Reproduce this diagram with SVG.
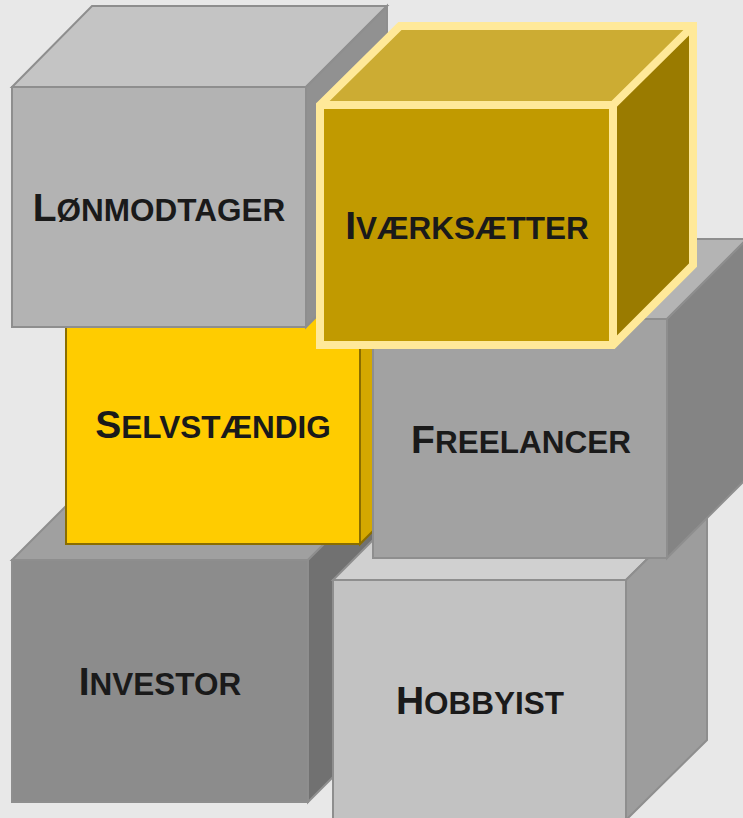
<svg xmlns="http://www.w3.org/2000/svg" width="743" height="818" viewBox="0 0 743 818">
<style>
.g{stroke:#8e8e8e;stroke-width:2;stroke-linejoin:miter}
.lbl{font-family:"Liberation Sans",Arial,sans-serif;font-weight:bold;fill:#1a1a1a;text-anchor:middle}
.big{font-size:39px}
.sm{font-size:31.5px}
</style>
<rect width="743" height="818" fill="#e8e8e8"/>
<g id="connectors"/>
<g id="investor">
<polygon class="g" points="12,560 92,480 388,480 308,560" fill="#a0a0a0" stroke="#989898"/>
<polygon class="g" points="308,560 388,480 388,722 308,802" fill="#717171" stroke="#989898"/>
<rect class="g" x="12" y="560" width="296" height="242" fill="#8c8c8c" stroke="#989898"/>
<text class="lbl" x="160" y="695"><tspan class="big">I</tspan><tspan class="sm">NVESTOR</tspan></text>
</g>
<g id="hobbyist">
<polygon class="g" points="333,580 413,500 707,500 626,580" fill="#d0d0d0"/>
<polygon class="g" points="626,580 707,500 707,740 626,820" fill="#9d9d9d"/>
<rect class="g" x="333" y="580" width="293" height="240" fill="#c2c2c2"/>
<text class="lbl" x="480" y="714"><tspan class="big">H</tspan><tspan class="sm">OBBYIST</tspan></text>
</g>
<g id="selvstaendig">
<polygon points="66,304 146,224 440,224 360,304" fill="#ffd633" stroke="#8a6d00" stroke-width="2"/>
<polygon points="360,304 440,224 440,464 360,544" fill="#d4a800" stroke="#8a6d00" stroke-width="2"/>
<rect x="66" y="304" width="294" height="240" fill="#ffcc00" stroke="#8a6d00" stroke-width="2"/>
<text class="lbl" x="213" y="438"><tspan class="big">S</tspan><tspan class="sm">ELVSTÆNDIG</tspan></text>
</g>
<g id="freelancer">
<polygon class="g" points="373,319 453,239 747,239 667,319" fill="#b4b4b4"/>
<polygon class="g" points="667,319 747,239 747,478 667,558" fill="#848484"/>
<rect class="g" x="373" y="319" width="294" height="239" fill="#a2a2a2"/>
<text class="lbl" x="521" y="453"><tspan class="big">F</tspan><tspan class="sm">REELANCER</tspan></text>
</g>
<g id="lonmodtager">
<polygon class="g" points="12,87 92,6 387,6 306,87" fill="#c4c4c4"/>
<polygon class="g" points="306,87 387,6 387,246 306,327" fill="#919191"/>
<rect class="g" x="12" y="87" width="294" height="240" fill="#b3b3b3"/>
<text class="lbl" x="159" y="221"><tspan class="big">L</tspan><tspan class="sm">ØNMODTAGER</tspan></text>
</g>
<g id="ivaerksaetter">
<polygon points="320,105 400,26 693,26 613,105" fill="#ccac33"/>
<polygon points="613,105 693,26 693,265 613,345" fill="#9a7b00"/>
<rect x="320" y="105" width="293" height="240" fill="#c19a00"/>
<path d="M320,105 L400,26 L693,26 L693,265 L613,345 L320,345 Z M320,105 L613,105 L693,26 M613,105 L613,345" fill="none" stroke="#ffe999" stroke-width="8" stroke-linejoin="miter"/>
<text class="lbl" x="467" y="239"><tspan class="big">I</tspan><tspan class="sm">VÆRKSÆTTER</tspan></text>
</g>
</svg>
